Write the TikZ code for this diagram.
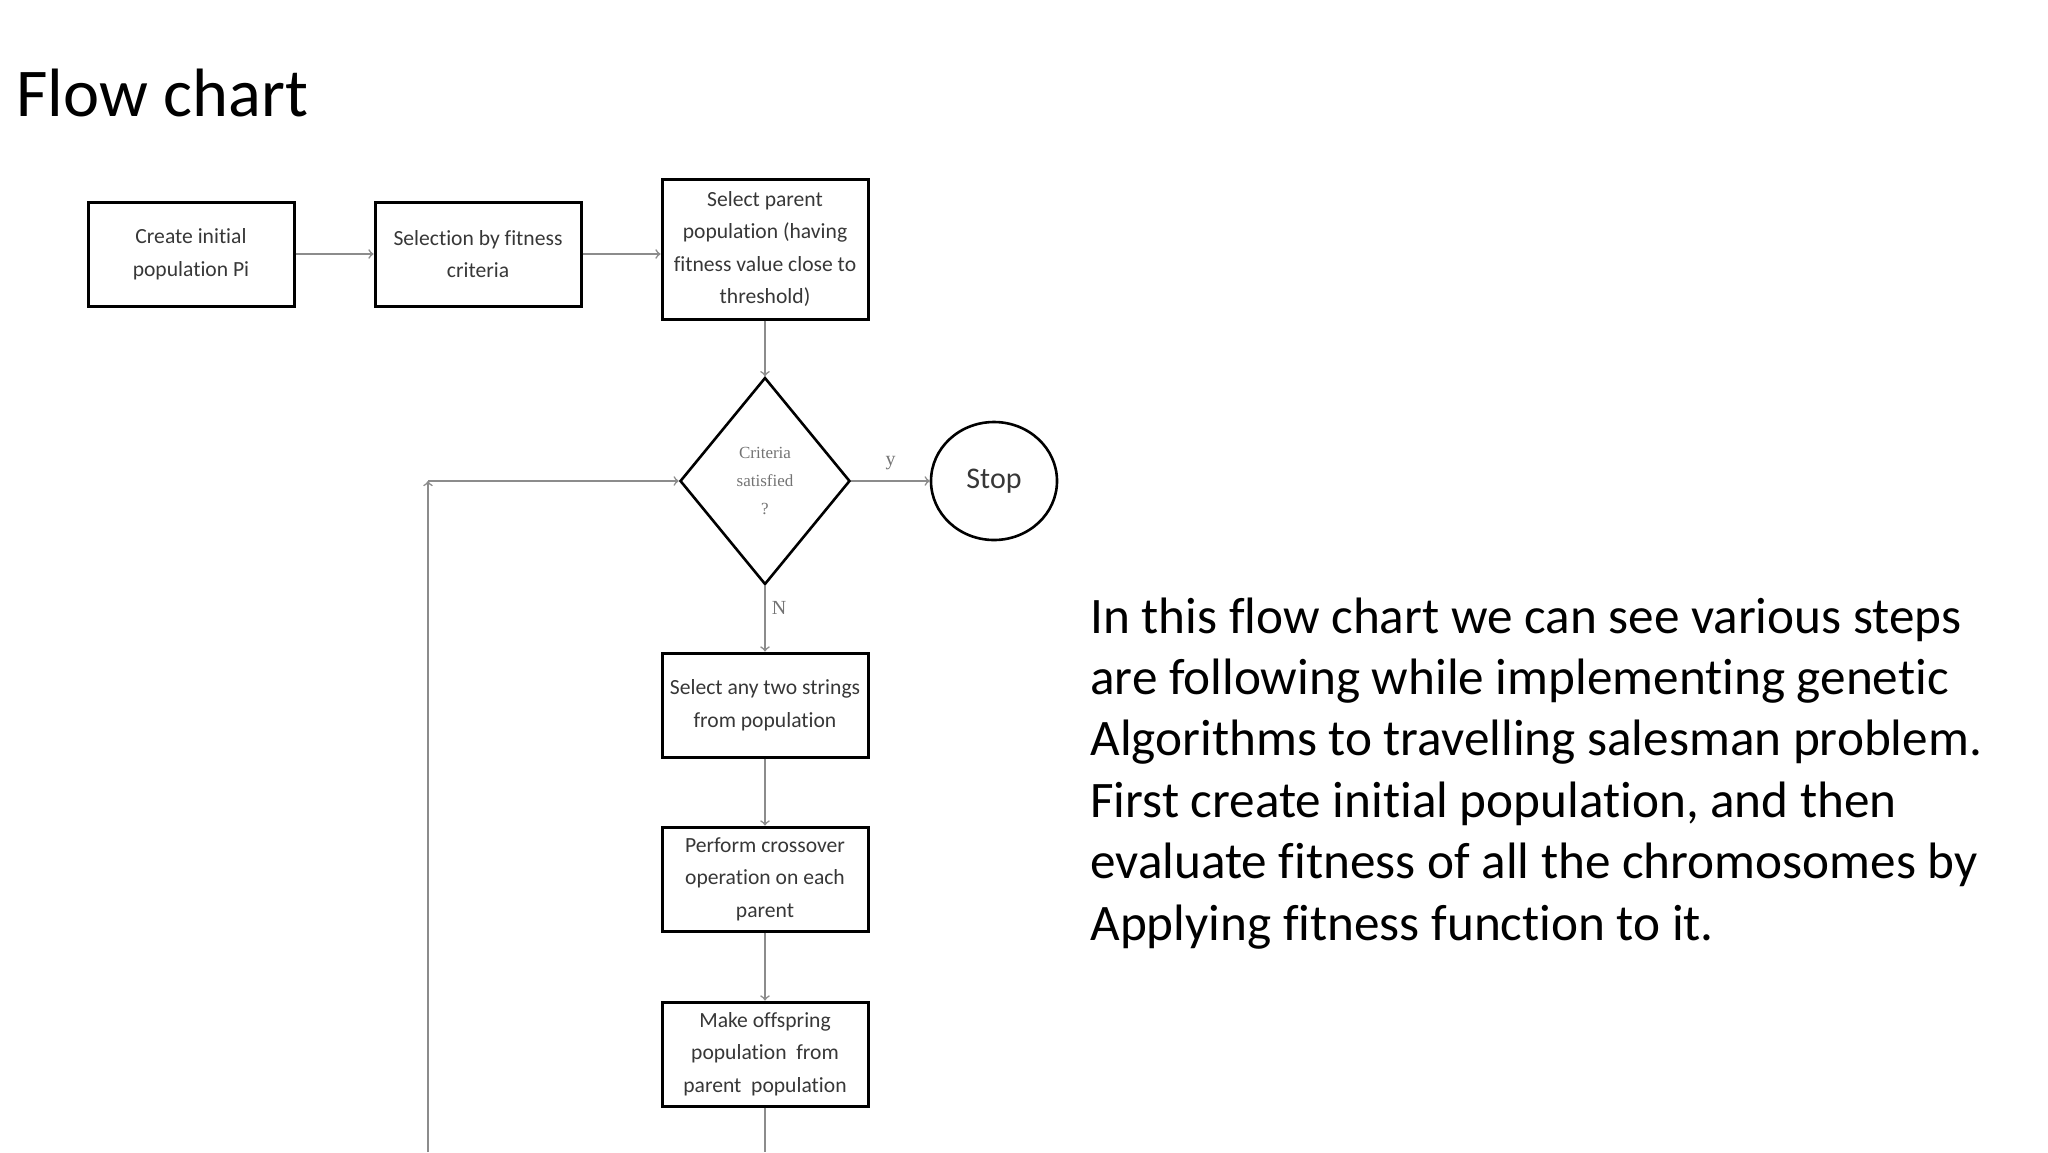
\documentclass[tikz,border=0pt]{standalone}
\usepackage{fontspec}
\setmainfont{Carlito}[Ligatures=NoCommon]
\newfontfamily\boxfont{Carlito}[Ligatures=NoCommon]
\newfontfamily\labelfont{Liberation Serif}
\usepackage{tikz}
\usetikzlibrary{shapes.geometric}
\definecolor{boxtext}{RGB}{55,55,55}
\definecolor{flowgray}{RGB}{140,140,140}
\definecolor{labelgray}{RGB}{115,115,115}

\begin{document}
\begin{tikzpicture}[x=0.5pt,y=0.5pt,yscale=-1,xscale=1,
  procbox/.style={draw, line width=1.5pt, minimum width=103pt, minimum height=52pt, inner sep=1pt, align=center, text=boxtext, font=\boxfont\fontsize{10.8}{16.3}\selectfont},
  flow/.style={draw=flowgray, line width=0.8pt, ->},
  flowlabel/.style={text=labelgray, font=\labelfont\fontsize{10}{12}\selectfont, inner sep=0pt}]
\useasboundingbox (0,0) rectangle (2048,1152);

% Text Node
\node (title) [anchor=base west, inner sep=0pt, font=\fontsize{34.2}{41}\selectfont] at (16,116) {Flow chart};

%Shape: Rectangle [top row]
\node (create) [procbox] at (191,254) {Create initial\\population Pi};
\node (fitsel) [procbox] at (478,254) {Selection by fitness\\criteria};
\node (parent) [procbox, minimum height=70pt] at (765,249) {Select parent\\population (having\\fitness value close to\\threshold)};

%Shape: Diamond
\node (crit) [diamond, draw, line width=1.3pt, minimum width=85pt, minimum height=103.5pt, aspect=0.82, inner sep=0pt, align=center, text=labelgray, font=\labelfont\fontsize{8.5}{14}\selectfont] at (765,481) {Criteria\\satisfied\\?};

%Shape: Ellipse
\node (stop) [ellipse, draw, line width=1.3pt, minimum width=63pt, minimum height=59pt, inner sep=0pt, text=boxtext, font=\boxfont\fontsize{15}{18}\selectfont] at (994,481) {Stop};

%Shape: Rectangle [loop body]
\node (pick) [procbox] at (765,705) {Select any two strings\\from population};
\node (cross) [procbox] at (765,879) {Perform crossover\\operation on each\\parent};
\node (offspr) [procbox] at (765,1054) {Make offspring\\population\ \ from\\parent\ \ population};

%Straight Lines
\draw [flow] (create) -- (fitsel);
\draw [flow] (fitsel.east) -- (fitsel.east -| parent.west);
\draw [flow] (parent) -- (crit);
\draw [flow] (crit) -- (stop) node (ylbl) [flowlabel, midway, above=5pt] {y};
\draw [flow] (crit) -- (pick) node (nlbl) [flowlabel, pos=0.33, right=3pt] {N};
\draw [flow] (pick) -- (cross);
\draw [flow] (cross) -- (offspr);

%Straight Lines [back to the test]
\coordinate (outB) at (765,1152);
\coordinate (loopB) at (428,1152);
\coordinate (loopT) at (428,481);
\draw [draw=flowgray, line width=0.8pt] (offspr) -- (outB);
\draw [flow] (loopB) -- (loopT);
\draw [flow] (loopT) -- (crit);

% Text Node (base = last line)
\node (desc) [anchor=base west, inner sep=0pt, align=left, font=\fontsize{25.6}{30.7}\selectfont] at (1090,940) {In this flow chart we can see various steps\\are following while implementing genetic\\Algorithms to travelling salesman problem.\\First create initial population, and then\\evaluate fitness of all the chromosomes by\\Applying fitness function to it.};
\end{tikzpicture}
\end{document}
